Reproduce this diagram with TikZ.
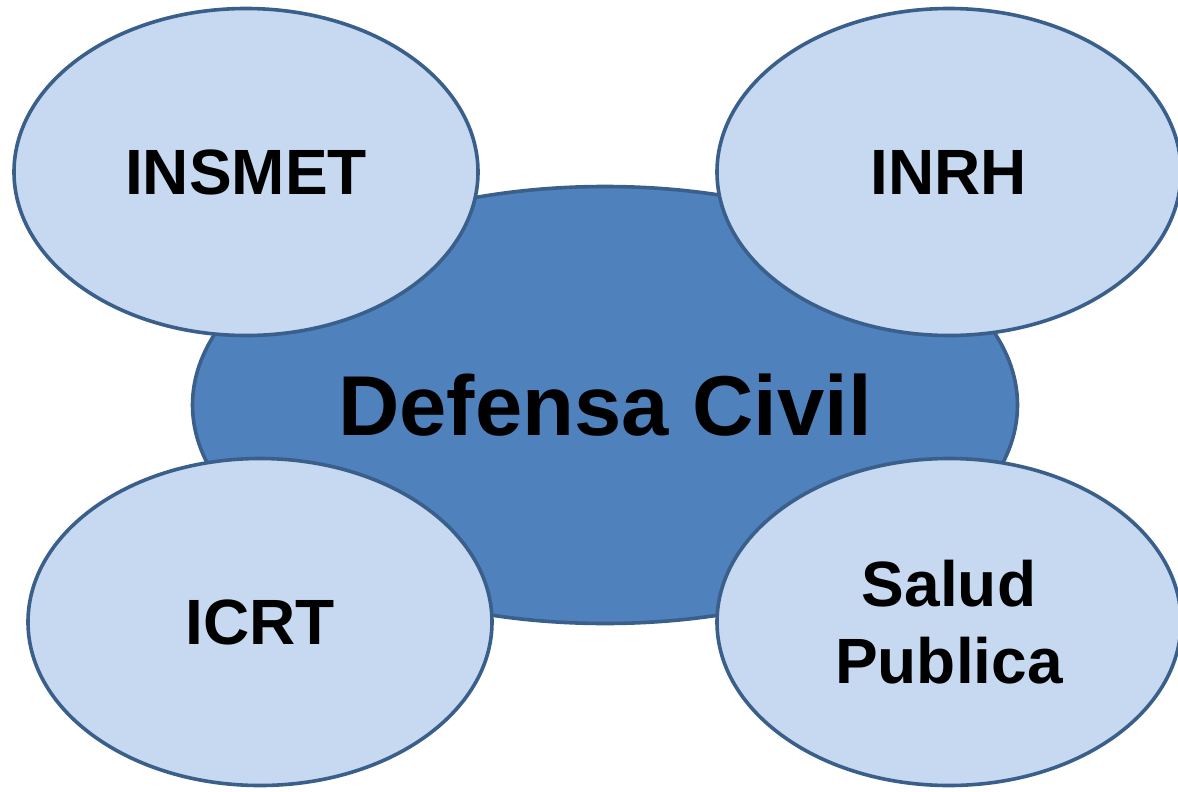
\documentclass[tikz,border=0pt]{standalone}
\usepackage{fontspec}
\setmainfont{Liberation Sans}
\usetikzlibrary{shapes.geometric}
\definecolor{darkfill}{HTML}{4F81BD}
\definecolor{lightfill}{HTML}{C6D9F1}
\definecolor{edgeblue}{HTML}{3A5F8B}
\begin{document}
\begin{tikzpicture}[x=1pt,y=-1pt,
  bigell/.style={ellipse, draw=edgeblue, line width=3.6pt, fill=darkfill, inner sep=0pt,
    minimum width=825pt, minimum height=437pt, font=\bfseries\fontsize{85}{98}\selectfont},
  smallell/.style={ellipse, draw=edgeblue, line width=3.6pt, fill=lightfill, inner sep=0pt,
    minimum width=464pt, minimum height=327pt, align=center,
    font=\bfseries\fontsize{64}{77}\selectfont}]
\useasboundingbox (0,0) rectangle (1178,792);
\clip (0,0) rectangle (1178,792);
\node[bigell] (dc) at (605,405) {Defensa Civil};
\node[smallell] (insmet) at (246,172) {INSMET};
\node[smallell] (inrh) at (949,172) {INRH};
\node[smallell] (icrt) at (260,622) {ICRT};
\node[smallell] (salud) at (949,622) {Salud\\Publica};
\end{tikzpicture}
\end{document}
